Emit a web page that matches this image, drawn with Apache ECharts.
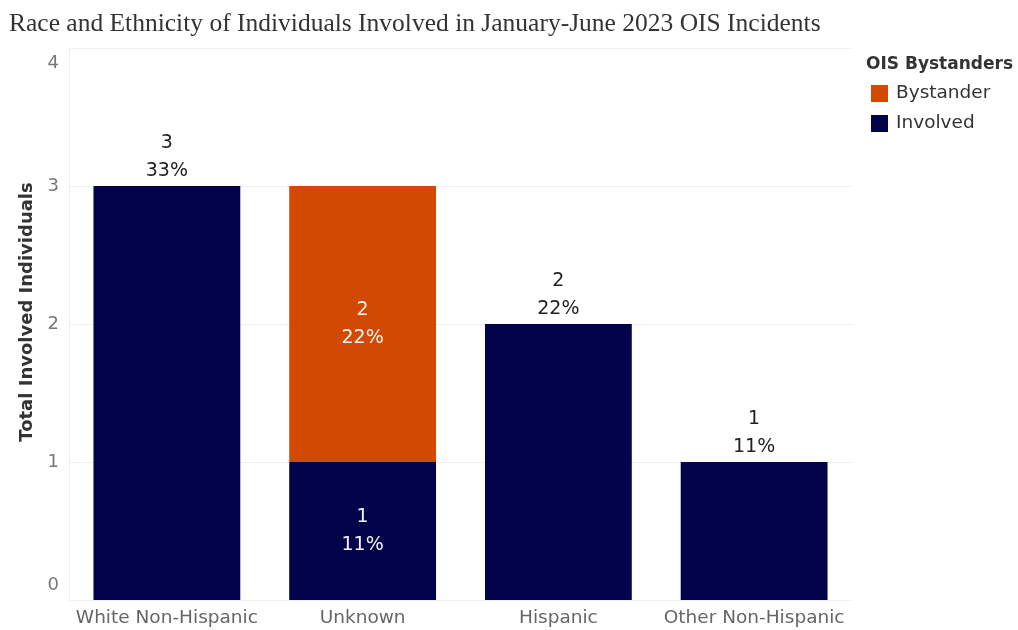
<!DOCTYPE html>
<html>
<head>
<meta charset="utf-8">
<script src="https://cdn.jsdelivr.net/npm/echarts@6/dist/echarts.min.js"></script>
<style>
  html, body { margin: 0; padding: 0; background: #fff; }
  #main { width: 1018px; height: 630px; }
</style>
</head>
<body>
<div id="main"></div>
<script>
// data
const categories = ['White Non-Hispanic', 'Unknown', 'Hispanic', 'Other Non-Hispanic'];
const involved = [3, 1, 2, 1];
const bystander = [null, 2, null, null];
const yTicks = [0, 1, 2, 3, 4];

const total = involved.concat(bystander).reduce((s, v) => s + (v || 0), 0);
const pct = v => Math.round(v / total * 100) + '%';

const NAVY = '#03034b';
const ORANGE = '#d24a02';
const FONT = '"DejaVu Sans", "Noto Sans", sans-serif';

const chart = echarts.init(document.getElementById('main'));

// involved bars: label sits above the bar unless something is stacked on top
const involvedData = involved.map((v, i) => ({
  value: v,
  label: bystander[i]
    ? { position: 'inside', color: '#f2f2f2' }
    : { position: 'top', color: '#222' }
}));

const option = {
  animation: false,
  textStyle: { fontFamily: FONT },
  title: {
    text: 'Race and Ethnicity of Individuals Involved in January-June 2023 OIS Incidents',
    left: 4,
    top: 6,
    textStyle: {
      fontFamily: '"Liberation Serif", "DejaVu Serif", serif',
      fontWeight: 'normal',
      fontSize: 25.5,
      color: '#333'
    }
  },
  legend: {
    orient: 'vertical',
    left: 866,
    top: 79,
    itemWidth: 17,
    itemHeight: 17,
    itemGap: 11,
    icon: 'rect',
    data: ['Bystander', 'Involved'],
    textStyle: { fontSize: 18.5, color: '#333', fontFamily: FONT, padding: [0, 0, 0, 3] }
  },
  graphic: [{
    type: 'text',
    left: 866,
    top: 56,
    style: {
      text: 'OIS Bystanders',
      fontSize: 17,
      fontWeight: 'bold',
      fill: '#333',
      fontFamily: FONT
    }
  }],
  grid: { left: 69, right: 166, top: 48, bottom: 30 },
  xAxis: {
    type: 'category',
    data: categories,
    axisLine: { show: false },
    axisTick: { show: false },
    axisLabel: { interval: 0, fontSize: 18.5, color: '#666', margin: 9, fontFamily: FONT }
  },
  yAxis: {
    type: 'value',
    min: yTicks[0],
    max: yTicks[yTicks.length - 1],
    interval: 1,
    name: 'Total Involved Individuals',
    nameLocation: 'middle',
    nameGap: 31,
    nameTextStyle: {
      fontSize: 18, fontWeight: 'bold', color: '#333', fontFamily: FONT,
      padding: [0, 0, 0, 24] // nudge the name up a bit, like the original
    },
    axisLine: { show: true, lineStyle: { color: '#eeeeee' } },
    axisTick: { show: false },
    splitLine: { lineStyle: { color: '#f0f0f0' } },
    axisLabel: {
      fontSize: 18,
      color: '#777',
      margin: 10,
      lineHeight: 30,
      verticalAlignMinLabel: 'bottom',
      verticalAlignMaxLabel: 'top'
    }
  },
  series: [
    {
      name: 'Involved',
      type: 'bar',
      stack: 'total',
      barWidth: '75%',
      itemStyle: { color: NAVY },
      data: involvedData,
      label: {
        show: true,
        distance: 1,
        fontSize: 19,
        lineHeight: 28,
        fontFamily: FONT,
        formatter: p => p.value + '\n' + pct(p.value)
      }
    },
    {
      name: 'Bystander',
      type: 'bar',
      stack: 'total',
      barWidth: '75%',
      itemStyle: { color: ORANGE },
      data: bystander,
      label: {
        show: true,
        position: 'inside',
        color: '#f2f2f2',
        fontSize: 19,
        lineHeight: 28,
        fontFamily: FONT,
        formatter: p => p.value + '\n' + pct(p.value)
      }
    }
  ]
};

chart.setOption(option);
</script>
</body>
</html>
